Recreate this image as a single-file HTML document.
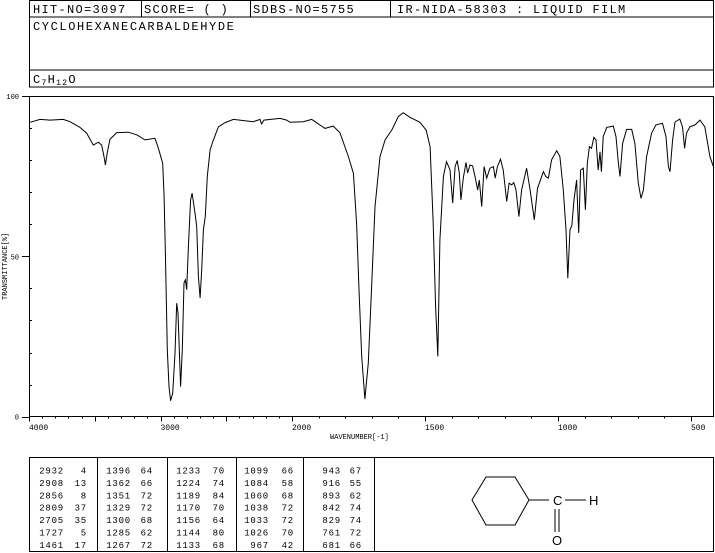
<!DOCTYPE html>
<html><head><meta charset="utf-8"><style>
html,body{margin:0;padding:0;background:#fff;}
svg{display:block;}
text{font-family:"Liberation Mono","DejaVu Sans Mono",monospace;fill:#000;}
</style></head>
<body>
<svg id="chart" width="715" height="553" viewBox="0 0 715 553" xmlns="http://www.w3.org/2000/svg">
<g font-size="12" stroke="#000" stroke-width="1" fill="none">
  <rect x="29.5" y="0.5" width="684" height="86.5"/>
  <line x1="29.5" y1="17" x2="713.5" y2="17"/>
  <line x1="29.5" y1="70" x2="713.5" y2="70"/>
  <line x1="141.5" y1="0" x2="141.5" y2="17"/>
  <line x1="250.5" y1="0" x2="250.5" y2="17"/>
  <line x1="390.5" y1="0" x2="390.5" y2="17"/>
</g>
<g font-size="12" letter-spacing="1.3">
  <text x="33" y="13" stroke="none">HIT-NO=3097</text>
  <text x="144" y="13">SCORE=  (  )</text>
  <text x="253" y="13">SDBS-NO=5755</text>
  <text x="397" y="13">IR-NIDA-58303 : LIQUID FILM</text>
  <text x="33" y="30" letter-spacing="1.6">CYCLOHEXANECARBALDEHYDE</text>
  <text x="33" y="83">C<tspan font-size="8" dy="2">7</tspan><tspan dy="-2">H</tspan><tspan font-size="8" dy="2">12</tspan><tspan dy="-2">O</tspan></text>
</g>
<g id="axes"></g>
<path id="spectrum" fill="none" stroke="#000" stroke-width="1"/>
<text x="330" y="439" font-size="7">WAVENUMBER[-1]</text>
<text transform="translate(7,300) rotate(-90)" font-size="7">TRANSMITTANCE[%]</text>
<g id="peaktable"></g>
<g stroke="#000" stroke-width="1" fill="none">
  <polygon points="486,477 515,477 529,500 515,525 486,525 472,500"/>
  <line x1="529" y1="500" x2="549" y2="500"/>
  <line x1="565" y1="500" x2="586" y2="500"/>
  <line x1="555" y1="509" x2="555" y2="532"/>
  <line x1="559" y1="509" x2="559" y2="532"/>
</g>
<g font-size="13">
  <text x="553" y="505" style="font-family:'Liberation Sans',sans-serif">C</text>
  <text x="589" y="505" style="font-family:'Liberation Sans',sans-serif">H</text>
  <text x="552" y="545" style="font-family:'Liberation Sans',sans-serif">O</text>
</g>
</svg>
<script>
const wavenumbers=[3992,3916,3840,3739,3688,3612,3561,3511,3473,3447,3430,3419,3404,3384,3333,3245,3181,3118,3042,3016,2983,2973,2961,2948,2935,2923,2907,2890,2877,2867,2857,2847,2834,2821,2811,2801,2788,2771,2760,2738,2725,2712,2699,2687,2674,2659,2644,2623,2598,2560,2509,2446,2294,2243,2231,2213,2091,2040,2015,1958,1926,1876,1845,1820,1788,1769,1757,1748,1738,1726,1713,1701,1688,1669,1650,1625,1600,1582,1557,1519,1496,1481,1469,1460,1452,1444,1431,1419,1406,1396,1387,1379,1371,1365,1356,1346,1340,1331,1321,1312,1302,1296,1287,1278,1268,1256,1243,1236,1228,1216,1206,1193,1184,1174,1166,1158,1147,1137,1118,1105,1089,1077,1068,1055,1046,1036,1024,1005,993,980,970,963,955,948,940,930,922,915,905,897,890,882,874,865,857,849,842,837,830,817,792,782,773,767,757,742,723,711,698,688,679,667,648,632,607,594,585,579,569,560,542,532,524,517,504,485,466,448,429,414];
const transmittance=[91.8,92.7,92.5,92.7,92,90.2,88.4,84.7,85.6,84.7,81.1,78.5,82.6,86.5,88.6,88.7,87.9,86.3,86.8,83.7,79,68.6,47.9,20.9,9.4,5,7.3,19.8,35.4,32.3,20.9,9.4,20.9,41.7,42.7,39.6,53.1,67.6,69.7,63.5,59.3,43.7,37,45.8,58.3,62.5,74.9,83.2,86.3,90.4,91.7,92.7,92,92.7,91.3,92.5,93,92.5,91.8,92,92.7,89.9,90.6,88.6,81.1,75.9,60.3,39.6,18.8,5.5,16.8,39.6,65.5,81.1,86.3,89.4,93.6,94.8,93.4,91.8,89.4,84.2,60.3,34.4,18.8,55.1,74.9,79.5,77,66.6,78,79.9,76,67.6,74.4,79.3,76,78.5,78.2,74.9,70.7,73.8,65.5,78,74.4,77.5,78,74.4,78,80.3,77,67.1,72.8,72.3,73,70.7,62.4,70.7,77.5,70.7,61.4,71.2,73.3,76.4,74.9,74.4,80.1,82.9,81.1,70.7,58.3,43.2,58.3,59.5,67.6,73.8,57.3,76.9,77.5,64.5,79,84.2,83.7,87.1,86.3,76.9,82.6,76.4,87.3,90.2,90.6,87.3,79,74.9,85.2,89.6,89.6,85.2,72.8,68.1,70.7,81.1,88.4,91,91.5,87.3,78,76.4,86.3,91.9,92.8,90.4,83.7,88.4,90.4,91,92.5,90.4,81.1,77.5];
const xTickLabels=["4000","3000","2000","1500","1000","500"];
const yTickLabels=["100","50","0"];
const peakWn=[2932,2908,2856,2809,2705,1727,1461,1396,1362,1351,1329,1300,1285,1267,1233,1224,1189,1170,1156,1144,1133,1099,1084,1060,1038,1033,1026,967,943,916,893,842,829,761,681];
const peakT=[4,13,8,37,35,5,17,64,66,72,72,68,62,72,70,74,84,70,64,80,68,66,58,68,72,72,70,42,67,55,62,74,74,72,66];

const NS="http://www.w3.org/2000/svg";
function xScale(wn){return wn>=2000?29+(4000-wn)*0.1315:292+(2000-wn)*0.266;}
function yScale(t){return 416.7-t*3.207;}
function mk(tag,attrs,parent){const e=document.createElementNS(NS,tag);for(const k in attrs)e.setAttribute(k,attrs[k]);parent.appendChild(e);return e;}

const axes=document.getElementById('axes');
const frame=mk('rect',{x:29.5,y:96.5,width:684,height:320,fill:'none',stroke:'#000','stroke-width':1},axes);


for(let wn=4000;wn>=500;wn-=100){
  const x=Math.round(xScale(wn))+0.5;
  const major=wn%500===0;
  const t=mk('line',{x1:x,y1:416.5,x2:x,y2:416.5+(major?5:2),stroke:'#000'},axes);
  
  
}
xTickLabels.forEach(l=>{
  const t=mk('text',{x:xScale(+l),y:430,'font-size':8},axes);
  t.textContent=l;
  
  
});
for(let v=0;v<=100;v+=10){
  const y=Math.round(yScale(v))+0.5;
  const major=v%50===0;
  const t=mk('line',{x1:major?22:29.5,y1:y,x2:major?29.5:32,y2:y,stroke:'#000'},axes);
  
  
}
yTickLabels.forEach(l=>{
  const t=mk('text',{x:19,y:yScale(+l)+3,'font-size':7,'text-anchor':'end'},axes);
  t.textContent=l;
  
  
});
let d='';
wavenumbers.forEach((w,i)=>{d+=(i?'L':'M')+xScale(w).toFixed(1)+','+yScale(transmittance[i]).toFixed(1);});
document.getElementById('spectrum').setAttribute('d',d);

const pt=document.getElementById('peaktable');
const tb=mk('rect',{x:29.5,y:457.5,width:684,height:94,fill:'none',stroke:'#000'},pt);


[97.5,167.5,236.5,303.5,374.5].forEach(x=>{
  const l=mk('line',{x1:x,y1:457.5,x2:x,y2:551.5,stroke:'#000'},pt);
  
  
});
const wnEnds=[64,131,201,269,341];
const tEnds=[87,153,225,294,362];
peakWn.forEach((w,i)=>{
  const c=Math.floor(i/7), r=i%7;
  const y=473.5+r*12.4;
  const a=mk('text',{x:wnEnds[c],y:y,'font-size':9,'text-anchor':'end','letter-spacing':0.8},pt);
  a.textContent=w;
  
  
  const b=mk('text',{x:tEnds[c],y:y,'font-size':9,'text-anchor':'end','letter-spacing':0.8},pt);
  b.textContent=peakT[i];
  
  
});
</script>
</body></html>
